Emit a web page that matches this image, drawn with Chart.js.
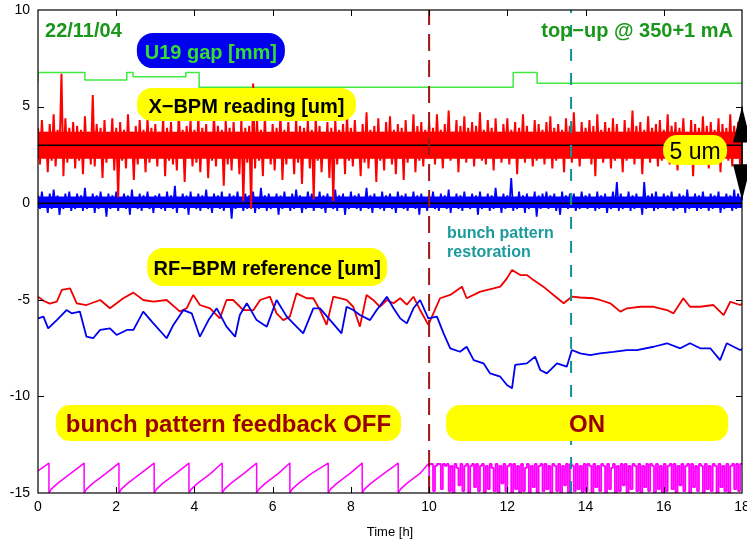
<!DOCTYPE html>
<html>
<head>
<meta charset="utf-8">
<title>X-BPM reading vs bunch pattern feedback</title>
<script src="https://cdn.jsdelivr.net/npm/chart.js@4.4.1/dist/chart.umd.min.js"></script>
<style>
  html, body { margin: 0; padding: 0; background: #fff; }
  #wrap { width: 747px; height: 544px; position: relative; }
</style>
</head>
<body>
<div id="wrap"><canvas id="bpmChart"></canvas></div>
<script>
// ---- values (time in hours) ----
const xTicks = [0, 2, 4, 6, 8, 10, 12, 14, 16, 18];
const yTicks = [-15, -10, -5, 0, 5, 10];

// U19 gap, step trace
const gapTime  = [0, 1.20, 2.27, 2.43, 3.78, 4.12, 12.15, 12.76, 17.60, 18];
const gapValue = [6.24, 6.77, 6.38, 6.77, 6.55, 6.77, 6.00, 6.77, 6.21, 6.21];

// X-BPM reading, one sample every 0.05 h (peaks and troughs alternate)
const xbpmStep = 0.05;
const xbpmRed = [
  3.9, 2.0, 4.3, 2.4, 3.7, 1.6, 4.1, 2.2, 4.6, 1.9, 3.8, 2.5, 6.7, 1.4, 4.4, 2.1, 3.9, 2.3, 4.2, 1.8,
  4.0, 2.2, 3.8, 1.5, 4.5, 2.4, 3.7, 2.0, 5.6, 1.9, 4.1, 2.3, 3.9, 1.3, 4.3, 2.1, 3.6, 2.5, 4.4, 1.7,
  3.9, 0.3, 4.2, 2.2, 3.8, 1.8, 4.6, 2.4, 3.7, 1.2, 4.0, 2.0, 4.3, 2.5, 3.8, 1.6, 4.5, 2.1, 3.9, 2.3,
  4.1, 1.9, 3.7, 2.4, 4.4, 1.4, 3.9, 2.2, 4.2, 2.0, 3.6, 1.7, 4.7, 2.3, 3.8, 1.1, 4.0, 2.5, 4.3, 1.9,
  3.8, 2.1, 4.5, 1.6, 3.9, 2.4, 4.1, 1.3, 3.7, 2.2, 4.6, 1.9, 4.0, 2.3, 3.8, 0.9, 4.3, 2.0, 3.9, 1.7,
  4.2, 2.4, 3.7, 1.5, 4.4, 0.1, 3.9, 2.1, 4.0, -0.3, 6.2, 1.8, 4.3, 2.2, 3.8, 1.4, 4.5, 2.3, 3.6, 2.0,
  4.1, 1.7, 3.9, 2.4, 4.6, 1.2, 3.8, 2.0, 4.2, 2.3, 3.7, 1.5, 4.4, 2.1, 4.0, 1.0, 3.9, 2.4, 4.3, 1.8,
  3.8, 0.2, 4.5, 2.2, 4.0, 1.6, 3.7, 2.3, 4.2, 1.3, 3.9, 0.1, 4.4, 2.0, 3.8, 2.4, 4.1, 1.5, 4.6, 2.2,
  3.9, 1.9, 4.3, 2.5, 3.6, 1.4, 4.1, 2.1, 4.7, 1.8, 3.8, 2.3, 4.0, 1.1, 4.4, 2.2, 3.7, 1.7, 4.2, 2.4,
  4.5, 2.0, 3.8, 1.5, 4.1, 2.3, 3.9, 1.2, 4.3, 2.1, 3.7, 2.4, 4.6, 1.6, 4.0, 2.2, 4.2, 1.9, 3.8, 2.3,
  4.2, 2.3, 3.9, 2.0, 4.6, 2.5, 3.8, 1.8, 4.1, 2.4, 4.8, 2.2, 3.7, 2.6, 4.3, 1.6, 4.0, 2.3, 4.5, 2.1,
  3.9, 2.4, 4.2, 1.9, 4.0, 2.5, 4.7, 2.2, 3.8, 2.0, 4.3, 2.6, 3.9, 1.7, 4.4, 2.3, 3.7, 2.1, 4.1, 2.5,
  4.4, 2.0, 3.8, 2.4, 4.2, 1.5, 3.9, 2.3, 4.6, 2.1, 4.0, 2.5, 3.7, 1.9, 4.3, 2.2, 4.1, 2.6, 3.8, 2.0,
  4.2, 2.4, 4.5, 1.8, 3.9, 2.2, 4.1, 2.5, 3.8, 1.6, 4.4, 2.3, 4.0, 2.1, 4.7, 2.4, 3.7, 1.9, 4.2, 2.3,
  3.9, 2.5, 4.3, 2.0, 4.0, 1.4, 4.6, 2.3, 3.8, 2.1, 4.2, 2.6, 3.9, 1.8, 4.4, 2.2, 4.1, 2.4, 3.7, 1.6,
  4.3, 2.2, 3.9, 2.5, 4.8, 2.0, 4.0, 2.3, 4.2, 1.5, 3.8, 2.4, 4.5, 2.1, 3.9, 2.6, 4.1, 1.9, 4.3, 2.2,
  3.8, 2.4, 4.6, 2.0, 4.0, 2.3, 4.2, 1.7, 3.9, 2.5, 4.4, 2.2, 3.7, 2.0, 4.3, 1.4, 4.1, 2.4, 3.9, 2.1,
  4.5, 2.3, 4.0, 1.8, 4.2, 2.5, 3.8, 2.1, 4.4, 1.6, 4.1, 2.4, 3.9, 2.2, 4.6, 1.9, 4.0, 2.3, 4.2, 2.0,
  3.0
];
const xbpmBlue = [
  0.4, -0.3, 0.6, -0.2, 0.3, -0.5, 0.5, -0.3, 0.7, -0.2, 0.4, -0.6, 0.3, -0.3, 0.5, -0.2, 0.6, -0.4, 0.3, -0.3,
  0.5, -0.2, 0.4, -0.4, 0.8, -0.3, 0.3, -0.2, 0.5, -0.5, 0.4, -0.3, 0.6, -0.2, 0.3, -0.7, 0.5, -0.3, 0.4, -0.2,
  0.6, -0.4, 0.3, -0.2, 0.5, -0.3, 0.4, -0.6, 0.7, -0.2, 0.3, -0.3, 0.5, -0.4, 0.4, -0.2, 0.6, -0.3, 0.3, -0.5,
  0.4, -0.2, 0.5, -0.3, 0.3, -0.4, 0.6, -0.2, 0.4, -0.3, 0.9, -0.5, 0.3, -0.2, 0.5, -0.3, 0.4, -0.6, 0.6, -0.2,
  0.3, -0.3, 0.5, -0.4, 0.4, -0.2, 0.7, -0.3, 0.3, -0.5, 0.5, -0.2, 0.4, -0.3, 0.6, -0.4, 0.3, -0.2, 0.5, -0.8,
  0.4, -0.3, 0.6, -0.2, 0.3, -0.4, 0.5, -0.3, 0.4, -0.2, 0.6, -0.5, 0.3, -0.3, 0.8, -0.2, 0.4, -0.4, 0.5, -0.3,
  0.3, -0.2, 0.5, -0.6, 0.4, -0.3, 0.6, -0.2, 0.3, -0.4, 0.5, -0.3, 0.7, -0.2, 0.4, -0.5, 0.3, -0.3, 0.6, -0.2,
  0.5, -0.4, 0.3, -0.2, 0.6, -0.3, 0.4, -0.5, 0.5, -0.2, 0.3, -0.3, 0.7, -0.4, 0.4, -0.2, 0.5, -0.6, 0.3, -0.3,
  0.6, -0.2, 0.4, -0.3, 0.5, -0.4, 0.3, -0.2, 0.8, -0.3, 0.4, -0.5, 0.5, -0.2, 0.3, -0.3, 0.6, -0.4, 0.4, -0.2,
  0.5, -0.3, 0.3, -0.5, 0.6, -0.2, 0.4, -0.3, 0.5, -0.4, 0.3, -0.2, 0.6, -0.3, 0.4, -0.6, 0.5, -0.2, 0.3, -0.4,
  0.4, -0.2, 0.6, -0.3, 0.3, -0.4, 0.5, -0.2, 0.4, -0.3, 0.7, -0.5, 0.3, -0.2, 0.5, -0.3, 0.4, -0.4, 0.6, -0.2,
  0.3, -0.3, 0.5, -0.2, 0.4, -0.6, 0.6, -0.3, 0.3, -0.2, 0.5, -0.4, 0.4, -0.3, 0.8, -0.2, 0.3, -0.5, 0.5, -0.3,
  0.4, -0.2, 1.3, -0.4, 0.3, -0.3, 0.6, -0.2, 0.4, -0.5, 0.5, -0.3, 0.3, -0.2, 0.6, -0.7, 0.4, -0.3, 0.5, -0.2,
  0.6, -0.3, 0.4, -0.2, 0.5, -0.4, 0.3, -0.6, 0.6, -0.2, 0.4, -0.3, 0.5, -0.2, 0.5, -0.4, 0.3, -0.3, 0.6, -0.2,
  0.4, -0.3, 0.5, -0.2, 0.3, -0.4, 0.6, -0.3, 0.4, -0.2, 0.5, -0.5, 0.3, -0.3, 0.6, -0.2, 1.1, -0.4, 0.5, -0.3,
  0.3, -0.2, 0.6, -0.4, 0.4, -0.3, 0.5, -0.2, 0.3, -0.6, 1.1, -0.3, 0.4, -0.2, 0.5, -0.4, 0.6, -0.3, 0.3, -0.2,
  0.5, -0.3, 0.4, -0.2, 0.6, -0.4, 0.3, -0.3, 0.5, -0.2, 0.4, -0.5, 0.7, -0.3, 0.3, -0.2, 0.5, -0.4, 0.4, -0.3,
  0.6, -0.2, 0.3, -0.4, 0.5, -0.3, 0.4, -0.2, 0.6, -0.5, 0.3, -0.3, 0.5, -0.2, 0.4, -0.4, 0.7, -0.3, 0.5, -0.2,
  0.0
];
const xbpmRedMean = 3.0;
const xbpmBlueMean = 0.0;
// edges of the solid core of each noisy band [bottom, top]
const xbpmRedCore = [2.3, 3.7];
const xbpmBlueCore = [-0.25, 0.35];

// RF-BPM reference
const rfRedTime = [
  0.00, 0.14, 0.30, 0.48, 0.61, 0.82, 0.99, 1.24, 1.59, 1.84, 2.18, 2.44, 2.69, 2.95, 3.29, 3.63, 3.80,
  3.97, 4.14, 4.40, 4.65, 4.82, 4.99, 5.25, 5.51, 5.68, 5.93, 6.10, 6.27, 6.44, 6.61, 6.87, 7.04, 7.21,
  7.38, 7.55, 7.89, 8.06, 8.23, 8.40, 8.57, 8.74, 8.92, 9.09, 9.26, 9.43, 9.60, 9.77, 9.98, 10.11, 10.28,
  10.54, 10.84, 10.96, 11.31, 11.65, 11.82, 11.99, 12.12, 12.33, 12.50, 12.67, 12.92, 13.18, 13.44, 13.65,
  13.86, 14.20, 14.37, 14.63, 14.89, 15.06, 15.40, 15.74, 16.08, 16.25, 16.50, 16.67, 16.93, 17.27, 17.53,
  17.70, 17.95, 18.00
];
const rfRedValue = [
  -4.84, -5.05, -5.20, -5.10, -4.49, -4.41, -5.18, -5.27, -5.01, -5.44, -4.92, -4.63, -5.01, -5.10, -5.01, -5.61, -5.44,
  -4.75, -5.27, -5.44, -5.96, -5.01, -5.01, -5.53, -5.53, -5.01, -4.84, -5.70, -6.05, -5.87, -4.67, -4.92, -4.92, -5.53,
  -6.30, -4.84, -5.01, -5.36, -6.39, -4.75, -5.01, -5.36, -5.01, -5.18, -4.92, -5.25, -4.84, -5.53, -6.30, -5.70, -4.92,
  -4.75, -4.32, -4.92, -4.58, -4.41, -4.32, -3.89, -3.46, -3.72, -3.72, -3.98, -4.32, -4.75, -5.18, -4.84,
  -4.88, -4.92, -5.01, -5.18, -5.61, -5.44, -5.36, -5.36, -5.53, -5.70, -4.92, -5.36, -5.36, -5.27, -5.79,
  -5.10, -5.27, -5.20
];
const rfBlueTime = [
  0.00, 0.14, 0.26, 0.48, 0.73, 0.86, 1.07, 1.24, 1.41, 1.59, 1.84, 2.01, 2.27, 2.44, 2.69, 2.95, 3.29,
  3.46, 3.72, 3.93, 4.14, 4.36, 4.57, 4.82, 5.04, 5.16, 5.34, 5.59, 5.85, 6.10, 6.36, 6.61, 6.78, 7.04,
  7.21, 7.47, 7.76, 7.89, 8.06, 8.23, 8.49, 8.66, 8.92, 9.09, 9.26, 9.43, 9.60, 9.77, 9.98, 10.20, 10.37,
  10.54, 10.79, 10.96, 11.14, 11.39, 11.56, 11.82, 11.99, 12.12, 12.20, 12.50, 12.71, 12.84, 13.01, 13.27,
  13.52, 13.65, 13.86, 14.12, 14.37, 14.71, 15.06, 15.31, 15.74, 16.08, 16.42, 16.67, 16.93, 17.19, 17.44,
  17.61, 17.95, 18.00
];
const rfBlueValue = [
  -5.96, -5.87, -6.48, -6.05, -5.53, -5.70, -5.61, -6.91, -6.99, -6.56, -6.48, -6.82, -6.56, -6.56, -5.61, -6.22, -6.99,
  -6.30, -5.53, -5.70, -6.91, -6.05, -5.44, -6.39, -6.91, -5.79, -5.18, -6.05, -6.39, -5.01, -5.87, -6.39, -6.74, -5.44,
  -5.44, -6.05, -6.74, -5.36, -5.53, -5.79, -6.05, -5.53, -4.84, -5.44, -5.96, -6.22, -5.44, -5.01, -5.96, -5.87, -6.74,
  -7.51, -7.69, -7.43, -8.12, -8.29, -8.81, -8.98, -9.41, -9.58, -8.37, -8.29, -7.94, -8.63, -8.81, -8.29,
  -8.46, -7.60, -7.77, -7.86, -7.77, -7.69, -7.60, -7.60, -7.43, -7.25, -7.51, -7.25, -7.51, -7.51, -8.12,
  -7.25, -7.60, -7.55
];

// bunch pattern, feedback OFF (sawtooth) and ON (one sample every 0.05 h)
const sawTime = [
  0.00, 0.28,
  0.28, 0.34, 0.50, 0.83, 1.18,
  1.18, 1.24, 1.40, 1.73, 2.07,
  2.07, 2.13, 2.29, 2.62, 2.97,
  2.97, 3.03, 3.19, 3.52, 3.86,
  3.86, 3.92, 4.08, 4.41, 4.71,
  4.71, 4.77, 4.93, 5.26, 5.59,
  5.59, 5.65, 5.81, 6.14, 6.44,
  6.44, 6.50, 6.66, 6.99, 7.42,
  7.42, 7.48, 7.64, 7.97, 8.29,
  8.29, 8.35, 8.51, 8.84, 9.21,
  9.21, 9.27, 9.43, 9.76, 10.00
];
const sawValue = [
  -13.86, -13.45,
  -15.0, -14.8, -14.5, -14.0, -13.45,
  -15.0, -14.8, -14.5, -14.0, -13.45,
  -15.0, -14.8, -14.5, -14.0, -13.45,
  -15.0, -14.8, -14.5, -14.0, -13.45,
  -15.0, -14.8, -14.5, -14.0, -13.45,
  -15.0, -14.8, -14.5, -14.0, -13.45,
  -15.0, -14.8, -14.5, -14.0, -13.45,
  -15.0, -14.8, -14.5, -14.0, -13.45,
  -15.0, -14.8, -14.5, -14.0, -13.45,
  -15.0, -14.8, -14.5, -14.0, -13.45,
  -15.0, -14.8, -14.5, -14.0, -13.45
];
const bunchOnStart = 10.0;
const bunchOnStep = 0.05;
const bunchOnValue = [
  -15.0, -13.5, -13.5, -14.9, -13.6, -13.5, -13.5, -14.8, -13.5, -13.6, -13.5, -14.9, -13.6, -15.0, -13.5, -13.7, -14.6, -13.5, -14.9, -13.6,
  -13.5, -15.0, -13.6, -13.5, -14.7, -13.5, -14.9, -13.6, -13.5, -15.0, -13.6, -14.8, -13.5, -13.7, -14.9, -13.5, -15.0, -13.6, -14.5, -13.5,
  -14.9, -13.6, -13.5, -15.0, -13.5, -14.8, -13.6, -15.0, -13.5, -14.9, -13.7, -13.5, -15.0, -13.6, -14.7, -13.5, -15.0, -13.6, -13.5, -14.9,
  -13.5, -14.8, -13.6, -15.0, -13.5, -13.6, -14.9, -13.5, -15.0, -13.6, -14.6, -13.5, -15.0, -13.5, -13.6, -14.9, -13.5, -14.8, -13.6, -15.0,
  -13.5, -14.9, -13.5, -13.6, -15.0, -13.5, -14.7, -13.6, -14.9, -13.5, -13.6, -15.0, -13.5, -14.8, -13.7, -13.5, -15.0, -13.6, -14.9, -13.5,
  -14.6, -13.5, -15.0, -13.6, -14.8, -13.5, -13.6, -14.9, -13.5, -15.0, -13.6, -14.7, -13.5, -14.9, -13.5, -13.6, -15.0, -13.5, -14.8, -13.6,
  -15.0, -13.5, -14.9, -13.6, -13.5, -14.8, -13.5, -15.0, -13.6, -14.6, -13.5, -14.9, -13.6, -13.5, -15.0, -13.5, -14.7, -13.6, -14.9, -13.5,
  -13.6, -15.0, -13.5, -14.8, -13.6, -14.9, -13.5, -13.6, -15.0, -13.5, -14.7, -13.6, -14.9, -13.5, -15.0, -13.6, -13.5, -14.8, -13.5, -14.9,
  -13.5
];

const feedbackOnTime = 10.0;
const restorationTime = 13.63;

// ---- helpers ----
const FONT = '"Liberation Sans", Arial, Helvetica, sans-serif';

function series(times, values) {
  return values.map((v, i) => ({ x: times[i], y: v }));
}
function sampled(start, step, values) {
  return values.map((v, i) => ({ x: start + i * step, y: v }));
}
function flat(value) {
  return [{ x: xTicks[0], y: value }, { x: xTicks[xTicks.length - 1], y: value }];
}
function vertical(time) {
  return [{ x: time, y: yTicks[0] }, { x: time, y: yTicks[yTicks.length - 1] }];
}
function line(data, color, width, order, extra) {
  return Object.assign({
    data: data,
    borderColor: color,
    borderWidth: width,
    borderJoinStyle: 'bevel',
    pointRadius: 0,
    tension: 0,
    fill: false,
    order: order
  }, extra || {});
}

function pill(ctx, cx, cy, w, h, r, color) {
  const x0 = cx - w / 2, x1 = cx + w / 2, y0 = cy - h / 2, y1 = cy + h / 2;
  ctx.beginPath();
  ctx.moveTo(x0 + r, y0);
  ctx.lineTo(x1 - r, y0);
  ctx.arcTo(x1, y0, x1, y0 + r, r);
  ctx.lineTo(x1, y1 - r);
  ctx.arcTo(x1, y1, x1 - r, y1, r);
  ctx.lineTo(x0 + r, y1);
  ctx.arcTo(x0, y1, x0, y1 - r, r);
  ctx.lineTo(x0, y0 + r);
  ctx.arcTo(x0, y0, x0 + r, y0, r);
  ctx.closePath();
  ctx.fillStyle = color;
  ctx.fill();
}

// labels placed in data units; dy is the text baseline offset from the pill centre (px)
const boxes = [
  { text: 'U19 gap [mm]', x: 4.42, y: 7.90, w: 148, h: 35, r: 16, bg: '#0000ee', color: '#33dd33', font: 'bold 20px ' + FONT, dy: 8 },
  { text: 'X\u2212BPM reading [um]', x: 5.33, y: 5.11, w: 219, h: 33, r: 15, bg: '#ffff00', color: '#000', font: 'bold 20px ' + FONT, dy: 9 },
  { text: '5 um', x: 16.80, y: 2.75, w: 64, h: 30, r: 14, bg: '#ffff00', color: '#000', font: '23px ' + FONT, dy: 9 },
  { text: 'RF\u2212BPM reference [um]', x: 5.86, y: -3.30, w: 240, h: 38, r: 16, bg: '#ffff00', color: '#000', font: 'bold 20px ' + FONT, dy: 8 },
  { text: 'bunch pattern feedback OFF', x: 4.87, y: -11.38, w: 345, h: 36, r: 14, bg: '#ffff00', color: '#990000', font: 'bold 24px ' + FONT, dy: 9 },
  { text: 'ON', x: 14.04, y: -11.38, w: 282, h: 36, r: 14, bg: '#ffff00', color: '#990000', font: 'bold 24px ' + FONT, dy: 9 }
];

const overlay = {
  id: 'overlay',
  afterDatasetsDraw(chart) {
    const { ctx, chartArea: a, scales: { x, y } } = chart;
    ctx.save();

    // frame with inward ticks on all four sides
    ctx.strokeStyle = '#000';
    ctx.lineWidth = 1.2;
    ctx.strokeRect(a.left, a.top, a.right - a.left, a.bottom - a.top);
    ctx.beginPath();
    xTicks.slice(1, -1).forEach(t => {
      const px = Math.round(x.getPixelForValue(t)) + 0.5;
      ctx.moveTo(px, a.bottom); ctx.lineTo(px, a.bottom - 6);
      ctx.moveTo(px, a.top); ctx.lineTo(px, a.top + 6);
    });
    yTicks.slice(1, -1).forEach(t => {
      const py = Math.round(y.getPixelForValue(t)) + 0.5;
      ctx.moveTo(a.left, py); ctx.lineTo(a.left + 6, py);
      ctx.moveTo(a.right, py); ctx.lineTo(a.right - 6, py);
    });
    ctx.lineWidth = 1;
    ctx.stroke();

    // 5 um double arrow on the right edge
    const ax = x.getPixelForValue(18);
    const aTop = y.getPixelForValue(5.0), aBot = y.getPixelForValue(0.15);
    ctx.fillStyle = '#000';
    ctx.beginPath();
    ctx.moveTo(ax, aTop); ctx.lineTo(ax - 9, aTop + 36); ctx.lineTo(ax + 9, aTop + 36); ctx.closePath();
    ctx.moveTo(ax, aBot); ctx.lineTo(ax - 9, aBot - 36); ctx.lineTo(ax + 9, aBot - 36); ctx.closePath();
    ctx.fill();
    ctx.beginPath();
    ctx.moveTo(ax, aTop); ctx.lineTo(ax, aBot);
    ctx.lineWidth = 1.5;
    ctx.stroke();

    // labelled boxes
    ctx.textAlign = 'center';
    ctx.textBaseline = 'alphabetic';
    boxes.forEach(b => {
      const cx = x.getPixelForValue(b.x), cy = y.getPixelForValue(b.y);
      pill(ctx, cx, cy, b.w, b.h, b.r, b.bg);
      ctx.fillStyle = b.color;
      ctx.font = b.font;
      ctx.fillText(b.text, cx, cy + b.dy);
    });

    // free text
    ctx.font = 'bold 20px ' + FONT;
    ctx.fillStyle = '#1a961a';
    ctx.textAlign = 'left';
    ctx.fillText('22/11/04', x.getPixelForValue(0.18), y.getPixelForValue(8.60));
    ctx.textAlign = 'right';
    ctx.fillText('top\u2212up @ 350+1 mA', x.getPixelForValue(17.77), y.getPixelForValue(8.62));

    ctx.font = 'bold 16px ' + FONT;
    ctx.fillStyle = '#1a9a9a';
    ctx.textAlign = 'left';
    ctx.fillText('bunch pattern', x.getPixelForValue(10.46), y.getPixelForValue(-1.82));
    ctx.fillText('restoration', x.getPixelForValue(10.46), y.getPixelForValue(-2.78));

    ctx.restore();
  }
};

const RED = '#ff0000', BLUE = '#0000ff';

// each noisy X-BPM trace = a filled solid core plus the spiky trace on top of it
const datasets = [
  line(series(gapTime, gapValue), '#40e840', 1.5, 9, { stepped: 'after' }),
  line(flat(xbpmBlueCore[1]), BLUE, 0, 8, { fill: '+1', backgroundColor: BLUE }),
  line(flat(xbpmBlueCore[0]), BLUE, 0, 8),
  line(sampled(0, xbpmStep, xbpmBlue), BLUE, 1.8, 8),
  line(flat(xbpmBlueMean), '#000', 1.5, 7),
  line(flat(xbpmRedCore[1]), RED, 0, 6, { fill: '+1', backgroundColor: RED }),
  line(flat(xbpmRedCore[0]), RED, 0, 6),
  line(sampled(0, xbpmStep, xbpmRed), RED, 2.0, 6),
  line(flat(xbpmRedMean), '#000', 1.5, 5),
  line(series(rfRedTime, rfRedValue), '#ee0000', 1.8, 4),
  line(series(rfBlueTime, rfBlueValue), '#0000ee', 1.8, 3),
  line(series(sawTime, sawValue), '#ff00ff', 1.5, 2),
  line(sampled(bunchOnStart, bunchOnStep, bunchOnValue), '#ff00ff', 1.8, 2, { stepped: 'after' }),
  line(vertical(feedbackOnTime), '#a01515', 2, 1, { borderDash: [17, 9] }),
  line(vertical(restorationTime), '#109494', 2, 1, { borderDash: [12, 12] })
];

const tickFont = { family: FONT, size: 14 };

new Chart(document.getElementById('bpmChart'), {
  type: 'line',
  data: { datasets: datasets },
  options: {
    responsive: true,
    maintainAspectRatio: false,
    devicePixelRatio: 1,
    animation: false,
    parsing: false,
    normalized: true,
    layout: { padding: { top: 10, right: 5, left: 0, bottom: 0 } },
    plugins: { legend: { display: false }, tooltip: { enabled: false }, filler: { propagate: false } },
    scales: {
      x: {
        type: 'linear',
        min: xTicks[0],
        max: xTicks[xTicks.length - 1],
        grid: { display: false, drawTicks: false },
        border: { display: false },
        ticks: { font: tickFont, color: '#000', padding: 6, autoSkip: false, maxRotation: 0 },
        afterBuildTicks: s => { s.ticks = xTicks.map(v => ({ value: v })); },
        afterFit: s => { s.height = 51; s.paddingLeft = 0; s.paddingRight = 0; },
        title: { display: true, text: 'Time [h]', color: '#000', font: { family: FONT, size: 13 }, padding: { top: 0, bottom: 4 } }
      },
      y: {
        min: yTicks[0],
        max: yTicks[yTicks.length - 1],
        grid: { display: false, drawTicks: false },
        border: { display: false },
        ticks: { font: tickFont, color: '#000', padding: 8 },
        afterBuildTicks: s => { s.ticks = yTicks.map(v => ({ value: v })); },
        afterFit: s => { s.width = 38; s.paddingTop = 0; s.paddingBottom = 0; }
      }
    }
  },
  plugins: [overlay]
});
</script>
</body>
</html>
